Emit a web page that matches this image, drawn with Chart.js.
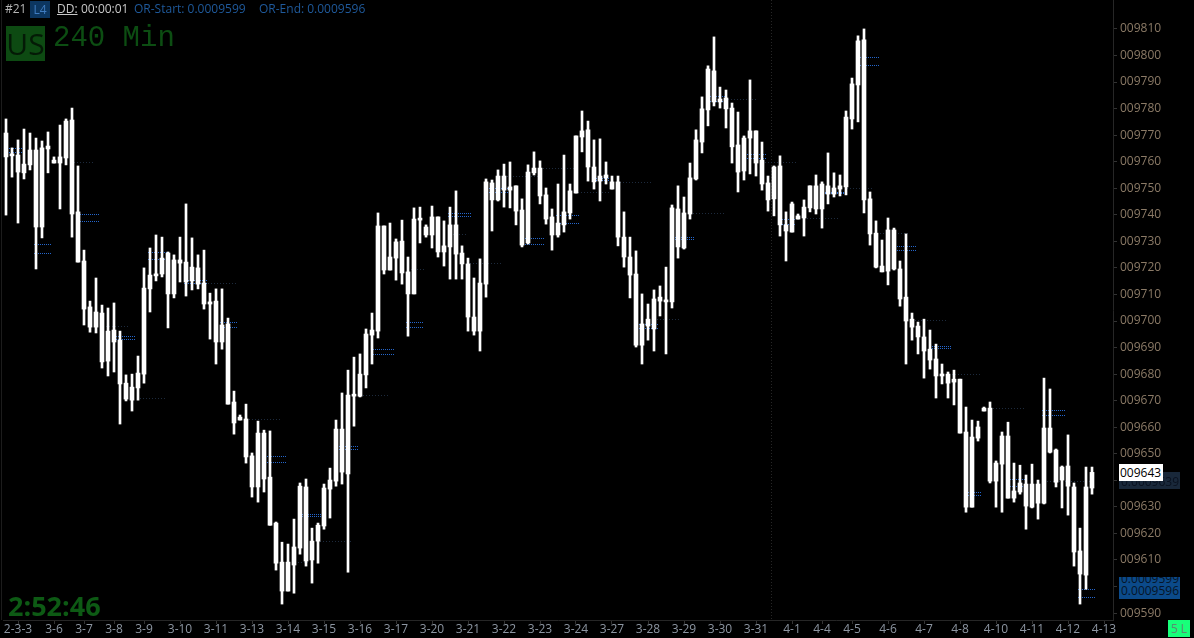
<!DOCTYPE html>
<html><head><meta charset="utf-8">
<script src="https://cdn.jsdelivr.net/npm/chart.js@4.4.0/dist/chart.umd.min.js"></script>
<style>
html,body{margin:0;padding:0;background:#000;overflow:hidden}
#wrap{position:relative;width:1194px;height:638px;background:#000}
canvas{position:absolute;left:0;top:0}
.t{position:absolute;font-family:"Open Sans",sans-serif;white-space:nowrap;line-height:1}
</style></head><body>
<div id="wrap">
<canvas id="c" width="1194" height="638"></canvas>
<div class="t" style="left:5px;top:3px;font-size:12px;color:#b4b4b4">#21</div>
<div class="t" style="left:30px;top:1px;width:20px;height:17px;background:#0c3660;color:#3f7cc0;font-size:12px;text-align:center;line-height:17px">L4</div>
<div class="t" style="left:57px;top:3px;font-size:12px;color:#c8c8c8;text-decoration:underline">DD:</div>
<div class="t" style="left:81px;top:3px;font-size:12px;color:#c8c8c8">00:00:01</div>
<div class="t" style="left:134px;top:3px;font-size:12px;color:#1f5a9c">OR-Start: 0.0009599</div>
<div class="t" style="left:259px;top:3px;font-size:12px;color:#1f5a9c">OR-End: 0.0009596</div>
<div class="t" style="left:6px;top:26px;width:39px;height:35px;background:#0d4a12;color:#041a06;font-size:30px;text-align:center;line-height:36px">US</div>
<div class="t" style="left:53px;top:24px;font-family:'Liberation Mono',monospace;font-size:29px;color:#0c4d12">240 Min</div>
<div class="t" style="left:8px;top:592px;font-size:27px;font-weight:bold;color:#0d5a14">2:52:46</div>
<div class="t" style="left:1119px;top:472px;width:61px;height:17px;background:#19283a;color:#0a1220;font-size:12px;line-height:19px;padding-left:2px;box-sizing:border-box">0.0009639</div>
<div class="t" style="left:1119px;top:464px;width:44px;height:17px;background:#fff;color:#000;font-size:12px;line-height:17px;padding-left:1px;box-sizing:border-box">009643</div>
<div class="t" style="left:1119px;top:577px;width:61px;height:22px;background:#0b4a8a;overflow:hidden;font-size:12px;color:#061528;box-sizing:border-box;padding-left:2px">
  <div style="position:absolute;left:2px;top:-4px">0.0009599</div>
  <div style="position:absolute;left:2px;top:8px">0.0009596</div>
</div>
<div class="t" style="left:1168px;top:620px;width:22px;height:17px;background:#18ff7a;color:#5e8c70;font-size:12px;text-align:center;line-height:17px">5 L</div>
</div>
<script>
// ---- data (price units of 0.0000001) ----
const openP = [
9770.8,9762.8,9762.5,9755.8,9764.4,9735.4,9735.4,9765.9,9759.5,9759.5,
9775.3,9775.7,9741.1,9722.6,9705.3,9703.4,9684.6,9684.9,9696.6,9692.8,
9670.6,9670.2,9674.8,9680.0,9712.1,9717.0,9723.7,9725.6,9710.2,9723.0,
9722.2,9720.3,9720.0,9714.3,9707.2,9707.5,9698.5,9698.9,9669.5,9663.8,
9663.1,9637.5,9637.5,9657.8,9641.2,9623.9,9609.2,9598.3,9608.1,9637.8,
9637.5,9610.0,9617.1,9622.8,9636.7,9639.7,9643.1,9642.4,9671.7,9671.7,
9679.7,9694.7,9696.2,9735.8,9719.2,9729.8,9730.1,9710.2,9710.2,9738.4,
9732.4,9739.2,9739.2,9726.0,9736.2,9736.2,9725.6,9721.5,9696.2,9696.2,
9713.9,9745.6,9745.6,9754.6,9750.5,9750.9,9728.6,9729.4,9757.6,9757.6,
9747.5,9739.2,9732.4,9736.2,9740.7,9748.2,9771.6,9772.0,9758.0,9752.7,
9755.0,9752.4,9752.4,9731.6,9724.1,9717.7,9690.9,9698.1,9697.0,9709.0,
9707.2,9707.2,9742.2,9727.5,9740.3,9753.5,9767.4,9779.5,9794.2,9783.6,
9784.0,9780.2,9756.1,9756.5,9771.6,9771.6,9760.6,9745.6,9758.0,9758.4,
9733.9,9733.5,9738.4,9738.8,9750.9,9742.2,9742.2,9750.9,9747.8,9749.7,
9750.5,9776.1,9788.9,9805.9,9746.0,9733.1,9718.5,9718.8,9734.3,9719.6,
9709.0,9700.7,9698.1,9694.0,9689.4,9685.7,9680.0,9680.0,9678.1,9678.1,
9658.2,9629.9,9655.9,9667.2,9667.2,9639.7,9656.7,9656.7,9633.3,9639.0,
9638.6,9629.9,9631.4,9631.4,9659.7,9651.4,9645.0,9645.4,9637.5,9604.7,
9604.3,9637.1];
const highP = [
9776.1,9765.2,9768.2,9772.3,9770.8,9768.9,9767.8,9771.2,9761.8,9773.8,
9776.1,9780.2,9758.4,9726.7,9707.5,9716.2,9706.0,9704.9,9706.8,9696.2,
9679.7,9680.0,9686.8,9720.0,9727.5,9732.4,9731.6,9726.0,9724.9,9731.6,
9744.1,9731.3,9724.9,9726.7,9710.5,9712.1,9712.1,9701.1,9673.6,9664.6,
9668.7,9650.3,9662.3,9658.9,9658.6,9624.3,9616.7,9616.0,9625.4,9639.0,
9640.5,9622.0,9623.9,9638.6,9644.6,9662.7,9672.9,9681.5,9686.4,9687.6,
9697.0,9703.0,9740.7,9735.8,9736.9,9730.9,9738.0,9724.1,9742.6,9742.9,
9736.2,9743.3,9739.2,9737.7,9742.9,9749.0,9728.3,9723.7,9716.2,9723.4,
9753.5,9753.1,9756.9,9759.1,9759.9,9750.9,9746.0,9758.8,9763.7,9760.3,
9750.1,9742.2,9751.6,9762.5,9751.6,9769.7,9779.1,9775.3,9768.2,9768.6,
9759.9,9754.6,9754.6,9741.1,9731.6,9726.4,9710.2,9706.4,9711.7,9713.2,
9720.3,9743.7,9750.9,9746.7,9759.5,9772.0,9784.4,9796.1,9807.0,9788.1,
9787.0,9782.1,9778.7,9769.7,9790.8,9771.6,9767.4,9754.6,9758.4,9762.2,
9741.1,9744.8,9740.3,9745.6,9750.9,9755.0,9752.4,9763.3,9755.8,9755.0,
9779.1,9791.5,9807.4,9810.0,9748.6,9737.7,9730.5,9738.8,9735.0,9722.6,
9732.8,9703.0,9699.6,9700.7,9696.6,9691.3,9683.8,9680.8,9681.5,9678.1,
9667.6,9662.7,9662.3,9667.6,9669.5,9647.3,9658.2,9661.9,9646.5,9645.7,
9642.0,9646.1,9640.1,9678.5,9674.4,9651.8,9645.4,9657.1,9639.0,9622.0,
9645.0,9645.0];
const lowP = [
9739.9,9754.2,9736.9,9753.5,9756.9,9719.6,9731.3,9755.8,9759.5,9742.2,
9758.8,9731.6,9722.2,9698.5,9695.8,9695.5,9682.3,9679.3,9680.8,9661.2,
9669.9,9666.1,9670.2,9676.6,9703.4,9715.1,9716.6,9697.4,9708.7,9714.7,
9709.4,9711.7,9712.1,9704.5,9693.2,9683.8,9689.4,9668.7,9657.4,9662.7,
9646.5,9633.7,9631.8,9635.6,9623.1,9606.2,9593.4,9598.3,9597.5,9612.2,
9607.7,9601.3,9608.8,9621.6,9625.8,9637.8,9638.6,9605.4,9660.4,9671.4,
9674.8,9683.8,9693.6,9717.7,9719.2,9715.4,9713.9,9694.3,9710.2,9729.4,
9731.6,9727.5,9724.1,9720.7,9715.8,9715.8,9715.8,9696.2,9694.7,9688.7,
9709.0,9733.9,9745.2,9742.9,9742.6,9736.2,9727.9,9729.0,9755.0,9744.1,
9736.5,9726.7,9731.6,9733.5,9738.4,9748.2,9763.7,9752.7,9749.7,9745.2,
9751.6,9749.7,9728.3,9720.3,9708.7,9690.2,9683.8,9692.8,9688.7,9701.9,
9687.6,9704.9,9723.7,9727.1,9738.4,9753.1,9763.3,9773.5,9781.0,9780.2,
9772.7,9759.5,9748.6,9753.1,9755.4,9754.6,9749.3,9741.4,9739.6,9732.0,
9722.6,9733.5,9738.4,9732.0,9741.1,9740.3,9735.0,9744.1,9746.7,9747.1,
9747.5,9772.3,9775.0,9740.7,9728.6,9720.0,9718.5,9713.6,9719.2,9705.6,
9683.8,9692.8,9687.6,9678.5,9681.9,9671.0,9676.3,9671.0,9668.4,9657.8,
9628.0,9629.9,9654.8,9666.1,9639.0,9629.9,9628.0,9633.3,9631.8,9634.8,
9621.6,9629.6,9625.4,9631.1,9650.3,9637.5,9629.6,9626.9,9607.7,9593.4,
9599.0,9634.8];
const closeP = [
9761.8,9762.2,9756.1,9759.1,9758.8,9764.4,9765.2,9764.8,9760.6,9761.8,
9761.4,9740.3,9722.2,9704.5,9697.7,9697.7,9703.0,9696.2,9692.1,9676.3,
9676.6,9675.1,9680.4,9712.4,9717.3,9717.7,9717.7,9710.2,9723.0,9721.8,
9714.7,9715.1,9713.9,9706.4,9706.4,9692.1,9692.1,9668.7,9661.6,9662.7,
9648.8,9649.2,9657.8,9640.5,9623.1,9608.8,9598.3,9609.2,9614.9,9614.5,
9609.6,9617.1,9623.1,9637.1,9640.1,9659.3,9659.3,9672.1,9672.1,9680.0,
9695.1,9696.6,9735.8,9719.2,9724.1,9723.7,9718.1,9718.5,9738.4,9738.0,
9735.4,9732.4,9726.0,9728.3,9727.9,9725.2,9721.5,9701.5,9701.5,9714.3,
9752.4,9752.0,9754.6,9749.3,9749.3,9741.4,9741.8,9756.1,9755.8,9747.1,
9738.4,9732.4,9736.9,9741.1,9749.0,9769.7,9769.3,9758.0,9752.4,9754.6,
9753.9,9749.7,9731.6,9724.1,9717.3,9690.9,9698.9,9700.7,9708.3,9707.5,
9707.9,9742.6,9727.9,9740.7,9753.9,9768.2,9779.9,9794.9,9782.5,9782.5,
9779.9,9765.6,9766.3,9768.9,9768.9,9759.5,9751.6,9752.0,9746.0,9736.2,
9736.2,9744.1,9739.6,9742.9,9742.6,9750.9,9751.6,9747.8,9750.1,9750.9,
9776.8,9789.3,9805.5,9745.6,9732.8,9720.3,9720.7,9734.3,9719.6,9708.3,
9700.0,9697.7,9694.0,9688.7,9685.3,9679.3,9679.3,9676.6,9677.0,9657.8,
9629.9,9656.3,9660.1,9666.1,9639.7,9646.5,9646.1,9633.3,9636.0,9635.6,
9630.3,9638.6,9638.6,9659.7,9650.6,9639.3,9640.1,9637.8,9613.0,9613.4,
9637.5,9643.0];

const slotCount = 185;               // bar slots on the time axis (last 3 empty)
const dateTickIndex = [2,8,13,18,23,29,35,41,47,53,59,65,71,77,83,89,95,101,107,113,119,125,131,136,141,147,153,159,165,171,177,183];
const dateTickText  = ['2-3-3','3-6','3-7','3-8','3-9','3-10','3-11','3-13','3-14','3-15','3-16','3-17','3-20','3-21','3-22','3-23','3-24','3-27','3-28','3-29','3-30','3-31','4-1','4-4','4-5','4-6','4-7','4-8','4-10','4-11','4-12','4-13'];
const priceTicks = [9590,9600,9610,9620,9630,9640,9650,9660,9670,9680,9690,9700,9710,9720,9730,9740,9750,9760,9770,9780,9790,9800,9810];
const priceMin = 9587.4, priceMax = 9820.9;
const sessionBreakAt = 127.5;        // dotted vertical separator

// opening-range marker pairs (blue dotted): slot from, slot to, OR-start level, OR-end level
const orFrom  = [0.2,4.7,12.3,18.3,23.7,29.7,35.7,43.2,49.3,55.2,60.8,66.7,73.7,80.2,86.2,91.7,98.3,105.2,111.2,117.3,123.5,129.3,136.5,142.3,148.2,154.0,160.0,167.3,172.7,178.7];
const orTo    = [2.5,7.5,15.5,21.5,27.3,33.5,38.5,46.5,52.7,58.5,64.5,69.5,77.5,83.7,89.5,95.5,100.5,108.5,114.5,120.3,126.5,131.5,139.5,145.5,151.5,157.5,162.5,170.2,176.5,181.5];
const orStart = [9765.2,9729.0,9740.3,9694.3,9726.0,9715.4,9699.6,9649.2,9627.3,9652.9,9689.4,9699.6,9740.7,9750.1,9731.3,9739.9,9753.9,9698.9,9731.6,9784.8,9762.9,9738.4,9748.6,9799.5,9728.3,9690.6,9635.6,9640.5,9666.5,9599.0];
const orEnd   = [9763.7,9725.6,9737.7,9693.2,9723.4,9714.3,9697.7,9646.9,9626.5,9651.8,9687.6,9697.7,9739.6,9748.6,9729.0,9736.9,9753.1,9697.4,9730.9,9782.9,9761.4,9736.5,9748.2,9796.4,9726.7,9689.9,9634.5,9637.8,9664.6,9596.0];
// dim reference levels (dark dotted): slot from, slot to, level
const refFrom  = [11.3,16.2,22.3,30.2,40.0,47.7,52.3,59.0,67.0,74.0,77.3,83.5,89.5,95.3,102.3,108.5,114.0,120.3,126.5,133.5,140.2,145.2,151.0,157.7,164.0,173.5];
const refTo    = [14.5,20.5,26.5,38.5,45.5,50.3,57.5,63.5,69.5,76.5,82.5,88.5,94.5,100.5,107.5,112.3,119.5,125.3,131.5,138.5,144.5,150.5,156.5,162.5,169.5,180.7];
const refLevel = [9759.9,9698.1,9671.0,9714.3,9663.1,9609.2,9617.1,9672.1,9719.6,9732.8,9721.8,9754.6,9757.6,9748.6,9752.4,9700.7,9740.7,9783.6,9759.9,9738.8,9750.1,9733.1,9700.4,9680.0,9667.2,9639.7];

// ---- build ----
const labels = Array.from({length: slotCount}, (_, i) => {
  const k = dateTickIndex.indexOf(i); return k >= 0 ? dateTickText[k] : '';
});
const wickData = lowP.map((l, i) => [l, highP[i]]);
const bodyData = openP.map((o, i) => [Math.min(o, closeP[i]), Math.max(o, closeP[i])]);

function hDots(ctx, x1, x2, y, color, gap) {
  ctx.fillStyle = color;
  for (let x = Math.round(x1); x <= x2; x += gap) ctx.fillRect(x, Math.round(y), 1, 1);
}
const decor = {
  id: 'decor',
  beforeDatasetsDraw(chart) {
    const {ctx, chartArea: a, scales: {x, y}} = chart;
    ctx.save();
    const px = Math.round(x.getPixelForValue(sessionBreakAt));
    ctx.fillStyle = '#262626';
    for (let yy = Math.round(a.top); yy < a.bottom; yy += 3) ctx.fillRect(px, yy, 1, 1);
    ctx.fillStyle = '#1c1c1c'; ctx.fillRect(1, 0, 1, a.bottom);
    refLevel.forEach((lv, i) => hDots(ctx, x.getPixelForValue(refFrom[i]), x.getPixelForValue(refTo[i]), y.getPixelForValue(lv), '#1d2a3c', 3));
    orStart.forEach((lv, i) => {
      const x1 = x.getPixelForValue(orFrom[i]), x2 = x.getPixelForValue(orTo[i]);
      hDots(ctx, x1, x2, y.getPixelForValue(lv), '#2466cc', 2);
      hDots(ctx, x1, x2, y.getPixelForValue(orEnd[i]), '#2466cc', 2);
    });
    ctx.restore();
  }
};

new Chart(document.getElementById('c'), {
  type: 'bar',
  data: {
    labels,
    datasets: [
      {data: wickData, backgroundColor: '#ffffff', barThickness: 2, grouped: false, order: 2},
      {data: bodyData, backgroundColor: '#ffffff', barThickness: 4, grouped: false, minBarLength: 2, order: 1}
    ]
  },
  options: {
    responsive: false, animation: false, devicePixelRatio: 1,
    layout: {padding: {left: 3, top: 0, right: 0, bottom: 0}},
    plugins: {legend: {display: false}, tooltip: {enabled: false}},
    scales: {
      x: {
        type: 'category', offset: true,
        grid: {drawOnChartArea: false, offset: false, tickLength: 4, color: c => labels[c.index] ? '#333333' : 'rgba(0,0,0,0)'},
        border: {color: '#262626'},
        ticks: {autoSkip: false, maxRotation: 0, minRotation: 0, padding: -2, color: '#8d96a2',
                font: {family: 'Open Sans', size: 12}, callback: (v, i) => labels[i]},
        afterFit: s => { s.height = 18; s.paddingLeft = 0; s.paddingRight = 0; }
      },
      y: {
        position: 'right', min: priceMin, max: priceMax,
        afterBuildTicks: s => { s.ticks = priceTicks.map(v => ({value: v})); },
        grid: {drawOnChartArea: false, tickLength: 4, color: '#333333'},
        border: {color: '#262626'},
        ticks: {padding: 3, color: '#8b7a66', font: {family: 'Open Sans', size: 12},
                callback: v => '00' + v},
        afterFit: s => { s.width = 81; s.paddingTop = 0; s.paddingBottom = 0; }
      }
    }
  },
  plugins: [decor]
});
</script>
</body></html>
